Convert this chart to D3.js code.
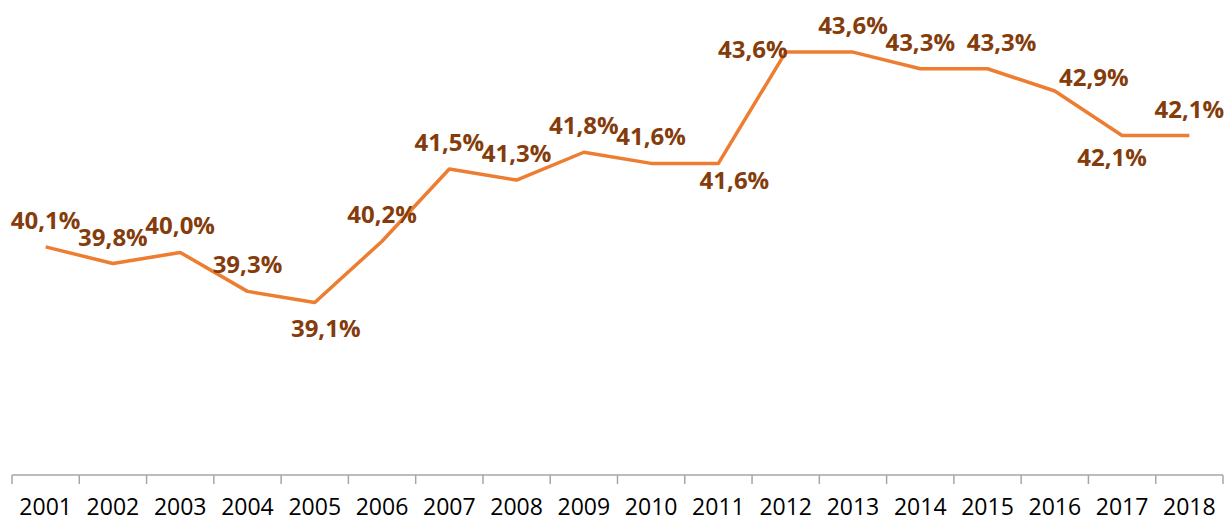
<!DOCTYPE html>
<html>
<head>
<meta charset="utf-8">
<script src="https://cdn.jsdelivr.net/npm/d3@7"></script>
<style>
  body { margin: 0; background: #fff; }
  svg { display: block; }
</style>
</head>
<body>
<div id="chart"></div>
<script>
// chart data
var years = ["2001","2002","2003","2004","2005","2006","2007","2008","2009",
             "2010","2011","2012","2013","2014","2015","2016","2017","2018"];
var shares = [40.1, 39.8, 40.0, 39.3, 39.1, 40.2, 41.5, 41.3, 41.8,
              41.6, 41.6, 43.6, 43.6, 43.3, 43.3, 42.9, 42.1, 42.1];
// where each label sits relative to its point (like Excel's label position)
var labelPlace = ["t","t","t","t","b","t","t","t","t",
                  "t","br","l","t","t","tr","r","bl","t"];

var width = 1228, height = 521;

var svg = d3.select("#chart")
    .append("svg")
    .attr("width", width)
    .attr("height", height);

var x = d3.scaleBand()
    .domain(years)
    .range([12, 1223]);

var y = d3.scaleLinear()
    .domain([36, 44.5])
    .range([475, 2]);

// x axis: ticks sit between the categories
var axis = svg.append("g")
    .attr("transform", "translate(0,475)");

axis.append("line")
    .attr("x1", x.range()[0])
    .attr("x2", x.range()[1])
    .attr("stroke", "#a6a6a6")
    .attr("stroke-width", 1.5);

var edges = years.map(function(d) { return x(d); }).concat([x.range()[1]]);
axis.selectAll(".tick")
    .data(edges)
    .enter().append("line")
    .attr("x1", function(d) { return d; })
    .attr("x2", function(d) { return d; })
    .attr("y1", 0)
    .attr("y2", 9)
    .attr("stroke", "#a6a6a6")
    .attr("stroke-width", 1.5);

axis.selectAll(".year")
    .data(years)
    .enter().append("text")
    .attr("x", function(d) { return x(d) + x.bandwidth() / 2; })
    .attr("y", 40)
    .attr("text-anchor", "middle")
    .style("font-family", "'Open Sans', sans-serif")
    .style("font-size", "23px")
    .style("fill", "#000")
    .text(function(d) { return d; });

// the line
var line = d3.line()
    .x(function(d, i) { return x(years[i]) + x.bandwidth() / 2; })
    .y(function(d) { return y(d); });

svg.append("path")
    .datum(shares)
    .attr("d", line)
    .attr("fill", "none")
    .attr("stroke", "#ED7D31")
    .attr("stroke-width", 3.5)
    .attr("stroke-linejoin", "round");

// label offsets per placement: [dx, dy, anchor]
var offsets = {
    t:  [0, -18, "middle"],
    b:  [11, 35, "middle"],
    br: [16, 26, "middle"],
    bl: [-10, 30, "middle"],
    tr: [14, -18, "middle"],
    r:  [39, -5, "middle"],
    l:  [2, 6, "end"]
};

svg.selectAll(".lbl")
    .data(shares)
    .enter().append("text")
    .attr("x", function(d, i) { return x(years[i]) + x.bandwidth() / 2 + offsets[labelPlace[i]][0]; })
    .attr("y", function(d, i) { return y(d) + offsets[labelPlace[i]][1]; })
    .attr("text-anchor", function(d, i) { return offsets[labelPlace[i]][2]; })
    .style("font-family", "'Open Sans', sans-serif")
    .style("font-size", "24px")
    .style("font-weight", "bold")
    .style("fill", "#843C0C")
    .text(function(d) { return d.toFixed(1).replace(".", ",") + "%"; });
</script>
</body>
</html>
